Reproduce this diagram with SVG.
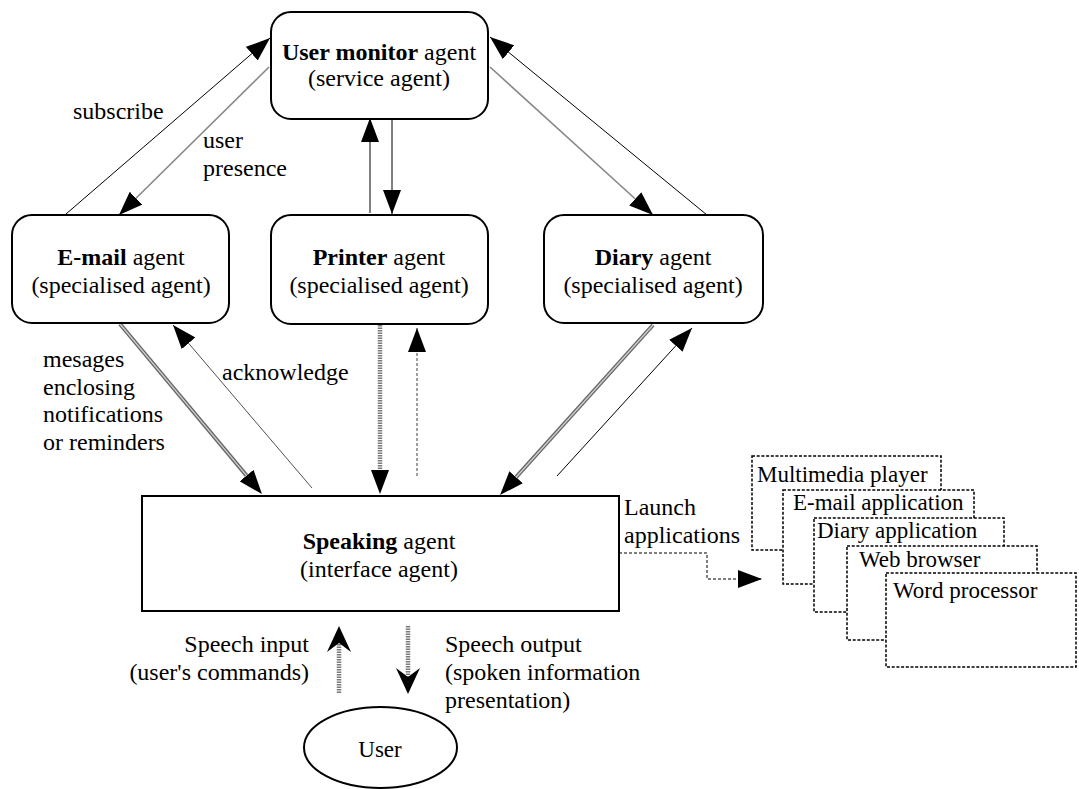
<svg xmlns="http://www.w3.org/2000/svg" width="1079" height="789" viewBox="0 0 1079 789">
<style>
text{font-family:"Liberation Serif","Times New Roman",serif;font-size:24px;fill:#000}
.b{font-weight:bold}
.node{fill:#fff;stroke:#000;stroke-width:2}
.app{fill:#fff;stroke:#000;stroke-width:1.5;stroke-dasharray:3 1.7}
.apptxt{font-size:23px}
.thin{fill:none;stroke:#000;stroke-width:1}
.grey{fill:none;stroke:#888;stroke-width:1.6}
.dashg{fill:none;stroke:#888;stroke-width:1.6;stroke-dasharray:3 2}
.ack{fill:none;stroke:#222;stroke-width:0.8}
.stripe{fill:none;stroke:#7a7a7a;stroke-width:4.5;stroke-dasharray:1.5 1}
.dbl-o{fill:none;stroke:#666;stroke-width:4}
.dbl-i{fill:none;stroke:#ccc;stroke-width:1.4}
.launch{fill:none;stroke:#000;stroke-width:1;stroke-dasharray:3 2}
</style>
<defs>
<marker id="tri" markerUnits="userSpaceOnUse" viewBox="0 0 24 18" markerWidth="24" markerHeight="18" refX="24" refY="9" orient="auto"><path d="M0,0 L24,9 L0,18 z" fill="#000"/></marker>
<marker id="triB" markerUnits="userSpaceOnUse" viewBox="0 0 24 18" markerWidth="24" markerHeight="18" refX="0" refY="9" orient="auto"><path d="M0,0 L24,9 L0,18 z" fill="#000"/></marker>
<marker id="notch" markerUnits="userSpaceOnUse" viewBox="0 0 26 24" markerWidth="26" markerHeight="24" refX="9" refY="12" orient="auto"><path d="M0,0 L26,12 L0,24 L9,12 z" fill="#000"/></marker>
</defs>

<g id="connectors">
<line class="thin" x1="66" y1="214" x2="270" y2="38" marker-end="url(#tri)"/>
<line class="grey" x1="269" y1="67" x2="119" y2="215" marker-end="url(#tri)"/>
<line class="thin" x1="392" y1="119" x2="392" y2="214" marker-end="url(#tri)"/>
<line class="thin" x1="370" y1="213" x2="370" y2="118" marker-end="url(#tri)"/>
<line class="thin" x1="707" y1="215" x2="490" y2="37" marker-end="url(#tri)"/>
<line class="grey" x1="490" y1="67" x2="653" y2="215" marker-end="url(#tri)"/>
<line class="dbl-o" x1="120" y1="324" x2="246.6" y2="475.6" marker-end="url(#triB)"/>
<line class="dbl-i" x1="120" y1="324" x2="246.6" y2="475.6"/>
<line class="ack" x1="312" y1="488" x2="173" y2="325" marker-end="url(#tri)"/>
<line class="stripe" x1="380" y1="325" x2="380" y2="470" marker-end="url(#triB)"/>
<line class="dashg" x1="417" y1="476" x2="417" y2="328" marker-end="url(#tri)"/>
<line class="dbl-o" x1="653" y1="325" x2="516.1" y2="477.2" marker-end="url(#triB)"/>
<line class="dbl-i" x1="653" y1="325" x2="516.1" y2="477.2"/>
<line class="thin" x1="557" y1="476" x2="692" y2="328" marker-end="url(#tri)"/>
<path class="launch" d="M619,553 H707 V579 H762" marker-end="url(#tri)"/>
<line class="stripe" x1="339" y1="693" x2="339" y2="643" marker-end="url(#notch)"/>
<line class="stripe" x1="408" y1="626" x2="408" y2="677" marker-end="url(#notch)"/>
</g>

<g id="labels">
<text x="73" y="119">subscribe</text>
<text x="203" y="148">user</text>
<text x="203" y="176">presence</text>
<text x="43" y="367">mesages</text>
<text x="43" y="395">enclosing</text>
<text x="43" y="422">notifications</text>
<text x="43" y="450">or reminders</text>
<text x="222" y="380">acknowledge</text>
<text x="624" y="515">Launch</text>
<text x="624" y="543">applications</text>
<text x="309" y="652" text-anchor="end">Speech input</text>
<text x="309" y="680" text-anchor="end">(user's commands)</text>
<text x="445" y="652">Speech output</text>
<text x="445" y="680">(spoken information</text>
<text x="445" y="708">presentation)</text>
</g>

<g id="user-monitor">
<rect class="node" x="271" y="12" width="217" height="107" rx="20"/>
<text x="379" y="60" text-anchor="middle"><tspan class="b">User monitor</tspan> agent</text>
<text x="379" y="86" text-anchor="middle">(service agent)</text>
</g>
<g id="email-agent">
<rect class="node" x="12" y="215" width="217" height="108" rx="20"/>
<text x="121" y="265" text-anchor="middle"><tspan class="b">E-mail</tspan> agent</text>
<text x="121" y="293" text-anchor="middle">(specialised agent)</text>
</g>
<g id="printer-agent">
<rect class="node" x="271" y="215" width="217" height="109" rx="20"/>
<text x="379" y="265" text-anchor="middle"><tspan class="b">Printer</tspan> agent</text>
<text x="379" y="293" text-anchor="middle">(specialised agent)</text>
</g>
<g id="diary-agent">
<rect class="node" x="544" y="215" width="219" height="108" rx="20"/>
<text x="653" y="265" text-anchor="middle"><tspan class="b">Diary</tspan> agent</text>
<text x="653" y="293" text-anchor="middle">(specialised agent)</text>
</g>
<g id="speaking-agent">
<rect class="node" x="142" y="496" width="477" height="115"/>
<text x="379" y="549" text-anchor="middle"><tspan class="b">Speaking</tspan> agent</text>
<text x="379" y="577" text-anchor="middle">(interface agent)</text>
</g>
<g id="user">
<ellipse class="node" cx="380.5" cy="747.5" rx="76.5" ry="40.5"/>
<text x="380" y="757" text-anchor="middle" style="font-size:23px">User</text>
</g>

<g id="app-multimedia">
<rect class="app" x="752" y="456" width="189" height="94"/>
<text class="apptxt" x="757" y="482">Multimedia player</text>
</g>
<g id="app-email">
<rect class="app" x="783" y="490" width="191" height="94"/>
<text class="apptxt" x="793" y="510">E-mail application</text>
</g>
<g id="app-diary">
<rect class="app" x="814" y="518" width="190" height="94"/>
<text class="apptxt" x="817" y="538">Diary application</text>
</g>
<g id="app-web">
<rect class="app" x="847" y="546" width="190" height="94"/>
<text class="apptxt" x="859" y="567">Web browser</text>
</g>
<g id="app-word">
<rect class="app" x="886" y="573" width="190" height="94"/>
<text class="apptxt" x="893" y="598">Word processor</text>
</g>
</svg>
